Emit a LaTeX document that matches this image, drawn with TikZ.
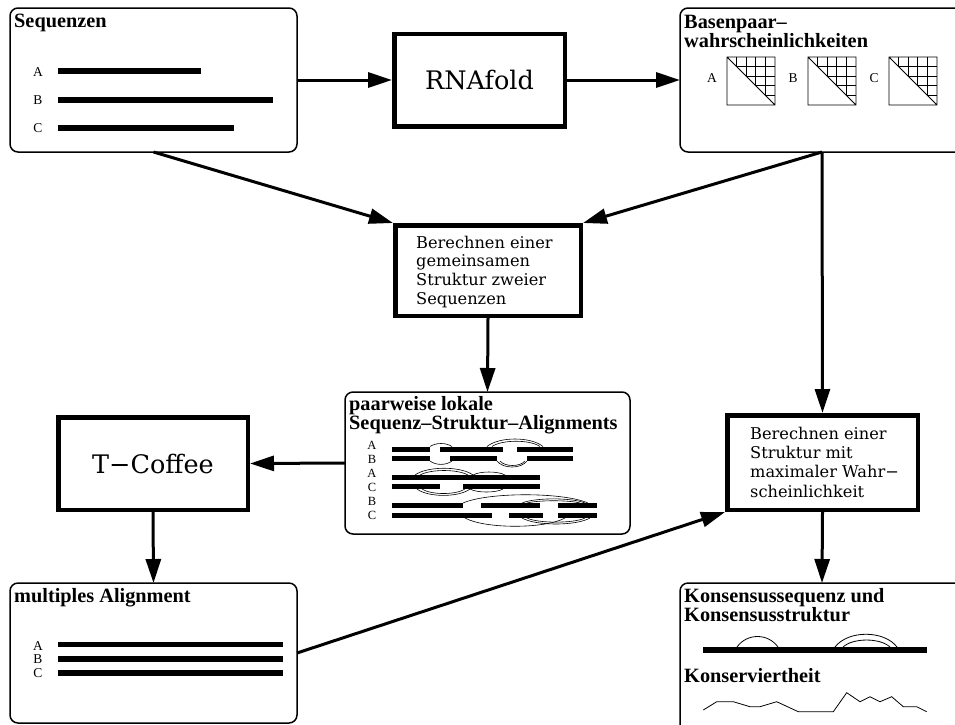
\documentclass[tikz,border=0pt]{standalone}
\usepackage{fontspec}
\setmainfont{Liberation Serif}
\newfontfamily\boxfont{DejaVu Serif}
\usetikzlibrary{arrows.meta}

\tikzset{
 rbox/.style={draw, line width=1.5pt, rounded corners=8pt, inner sep=0pt, outer sep=0pt},
 tbox/.style={draw, line width=4.5pt, inner sep=0pt},
 ttl/.style={font=\fontsize{20.3}{20}\selectfont\bfseries, anchor=base west, inner sep=0pt},
 lbl/.style={font=\fontsize{13.5}{14}\selectfont, inner sep=0pt, anchor=base},
 slbl/.style={font=\fontsize{12.5}{12}\selectfont, inner sep=0pt, anchor=base},
 btxt/.style={font=\boxfont\fontsize{16.2}{18}\selectfont, anchor=base west, inner sep=0pt},
 big/.style={font=\boxfont\fontsize{25.5}{26}\selectfont},
 arr/.style={line width=3pt, -{Triangle[length=24pt, width=15pt]}},
 bar/.style={line width=5.5pt},
 sbar/.style={line width=5pt},
 thinl/.style={line width=0.8pt},
 arcl/.style={line width=0.6pt},
}

\newcommand\probmat[2]{%
 \begin{scope}[shift={(#1,#2)}]
  \begin{scope}
   \clip (0,0) -- (48,0) -- (48,48) -- cycle;
   \foreach \i in {1,...,4} {
     \draw[thinl] (\i*9.6,0) -- (\i*9.6,48);
     \draw[thinl] (0,\i*9.6) -- (48,\i*9.6);
   }
  \end{scope}
  \draw[thinl] (0,0) rectangle (48,48) (0,0) -- (48,48);
 \end{scope}}

\begin{document}
\begin{tikzpicture}[x=1pt,y=-1pt]
\useasboundingbox (0,0) rectangle (955,724);
\clip (0,0) rectangle (955,724);

% ---------- boxes ----------
\node[rbox, minimum width=287pt, minimum height=144pt] (seq) at (153.5,80) {};
\node[tbox, big, minimum width=170.5pt, minimum height=92.5pt] (rna) at (479.5,80) {RNAfold};
\node[rbox, minimum width=284pt, minimum height=144pt] (bp) at (822,80) {};
\node[tbox, minimum width=185.5pt, minimum height=90.5pt] (gem) at (488,270.5) {};
\node[rbox, minimum width=285pt, minimum height=142pt] (pw) at (487.5,463) {};
\node[tbox, big, minimum width=189.5pt, minimum height=92.5pt] (tc) at (153,463.5) {T−Coffee};
\node[rbox, minimum width=287pt, minimum height=140pt] (mult) at (153.5,653) {};
\node[tbox, minimum width=190.5pt, minimum height=94.5pt] (maxb) at (822.5,462.5) {};
\node[rbox, minimum width=284pt, minimum height=154pt] (kons) at (822,660) {};

% ---------- arrows ----------
\draw[arr] (seq.east) -- (rna.west);
\draw[arr] (rna.east) -- (bp.west);
\draw[arr] (seq.south) -- (gem.north west);
\draw[arr] (bp.south) -- (gem.north east);
\draw[arr] (bp.south) -- (maxb.north);
\draw[arr] (gem.south) -- (pw.north);
\draw[arr] (pw.west) -- (tc.east);
\draw[arr] (tc.south) -- (mult.north);
\draw[arr] (mult.east) -- (maxb.south west);
\draw[arr] (maxb.south) -- (kons.north);

% ---------- Sequenzen ----------
\node[ttl] (seqT) at (14,27) {Sequenzen};
\node[lbl] (seqA) at (38,76) {A};
\node[lbl] (seqB) at (38,104.5) {B};
\node[lbl] (seqC) at (38,132.5) {C};
\draw[bar] (58,71) -- (201,71);
\draw[bar] (58,100) -- (273,100);
\draw[bar] (58,128) -- (234,128);

% ---------- Basenpaarwahrscheinlichkeiten ----------
\node[ttl] (bpT1) at (684,28) {Basenpaar–};
\node[ttl] (bpT2) at (684,47) {wahrscheinlichkeiten};
\node[lbl] (bpA) at (712,82) {A};
\node[lbl] (bpB) at (793,82) {B};
\node[lbl] (bpC) at (874,82) {C};
\probmat{727}{57}
\probmat{808}{57}
\probmat{889}{57}

% ---------- Berechnen gemeinsame Struktur ----------
\node[btxt] (g1) at (416,248) {Berechnen einer};
\node[btxt] (g2) at (416,266.7) {gemeinsamen};
\node[btxt] (g3) at (416,285.4) {Struktur zweier};
\node[btxt] (g4) at (416,304) {Sequenzen};

% ---------- paarweise ----------
\node[ttl] (pwT1) at (349,410) {paarweise lokale};
\node[ttl] (pwT2) at (349,429) {Sequenz–Struktur–Alignments};
\node[slbl] (pA1) at (372,449) {A};
\node[slbl] (pB1) at (372,463) {B};
\node[slbl] (pA2) at (372,477) {A};
\node[slbl] (pC1) at (372,491) {C};
\node[slbl] (pB2) at (372,505.5) {B};
\node[slbl] (pC2) at (372,519.5) {C};
% rows 1/2
\draw[sbar] (392,449) -- (430,449) (440,449) -- (503,449) (517,449) -- (573,449);
\draw[sbar] (392,458.5) -- (430,458.5) (450,458.5) -- (497,458.5) (527,458.5) -- (573,458.5);
\draw[arcl] (430,446.5) .. controls (436,442.5) and (446,442.5) .. (452,446.5);
\draw[arcl] (430,461) .. controls (436,465.5) and (446,465.5) .. (452,461);
\draw[arcl] (487,446.5) .. controls (499,436.5) and (531,436.5) .. (543,446.5);
\draw[arcl] (492,446.5) .. controls (502,439.5) and (530,439.5) .. (540,446.5);
\draw[arcl] (497,461) .. controls (503,469) and (521,469) .. (527,461);
\draw[arcl] (500,461) .. controls (505,467) and (520,467) .. (525,461);
% rows 3/4
\draw[sbar] (392,477.5) -- (540,477.5);
\draw[sbar] (392,486.5) -- (440,486.5) (463,486.5) -- (540,486.5);
\draw[arcl] (415,475) .. controls (427,466) and (461,466) .. (473,475);
\draw[arcl] (420,475) .. controls (431,469) and (457,469) .. (468,475);
\draw[arcl] (473,475) .. controls (480,471) and (498,471) .. (505,475);
\draw[arcl] (417,489) .. controls (428,497.5) and (459,497.5) .. (470,489);
\draw[arcl] (422,489) .. controls (431,495) and (456,495) .. (465,489);
\draw[arcl] (470,489) .. controls (477,493) and (496,493) .. (503,489);
% rows 5/6
\draw[sbar] (392,505.5) -- (463,505.5) (481,505.5) -- (540,505.5) (558,505.5) -- (597,505.5);
\draw[sbar] (392,515.5) -- (492,515.5) (509,515.5) -- (543,515.5) (558,515.5) -- (597,515.5);
\draw[arcl] (463,503) .. controls (488,492) and (563,492) .. (588,503);
\draw[arcl] (522,503) .. controls (535,497.5) and (572,497.5) .. (585,503);
\draw[arcl] (527,503) .. controls (538,500) and (569,500) .. (580,503);
\draw[arcl] (465,518) .. controls (485,529) and (545,529) .. (565,518);
\draw[arcl] (522,518) .. controls (536,526) and (576,526) .. (590,518);
\draw[arcl] (527,518) .. controls (538,523.5) and (574,523.5) .. (585,518);

% ---------- multiples Alignment ----------
\node[ttl] (mT) at (14,602) {multiples Alignment};
\node[lbl] (mA) at (38,650) {A};
\node[lbl] (mB) at (38,663.5) {B};
\node[lbl] (mC) at (38,677) {C};
\draw[bar] (58,644.5) -- (283,644.5);
\draw[bar] (58,659) -- (283,659);
\draw[bar] (58,673) -- (283,673);

% ---------- Berechnen max. Wahrscheinlichkeit ----------
\node[btxt] (x1) at (750,439) {Berechnen einer};
\node[btxt] (x2) at (750,458) {Struktur mit};
\node[btxt] (x3) at (750,477) {maximaler Wahr−};
\node[btxt] (x4) at (750,497) {scheinlichkeit};

% ---------- Konsensus ----------
\node[ttl] (kT1) at (684,602) {Konsensussequenz und};
\node[ttl] (kT2) at (684,621) {Konsensusstruktur};
\node[ttl] (kT3) at (684,682) {Konserviertheit};
\draw[line width=6pt] (703,650) -- (927,650);
\draw[thinl] (737,647) .. controls (747,633) and (768,633) .. (778,647);
\draw[thinl] (835,647) .. controls (848,630) and (884,630) .. (897,647);
\draw[thinl] (843,647) .. controls (853,637.7) and (880,637.7) .. (890,647);
\draw[thinl] (703.3,710) -- (716.7,701.7) -- (733.3,701.7) -- (750,706.7) -- (760,706.7)
  -- (776.7,701.7) -- (798.3,711.7) -- (833.3,711.7) -- (846.7,692.7) -- (860,701.7)
  -- (870,696.7) -- (880,701.7) -- (891.7,696.7) -- (903.3,706.7) -- (916.7,706.7) -- (926.7,711.7);
\end{tikzpicture}
\end{document}
